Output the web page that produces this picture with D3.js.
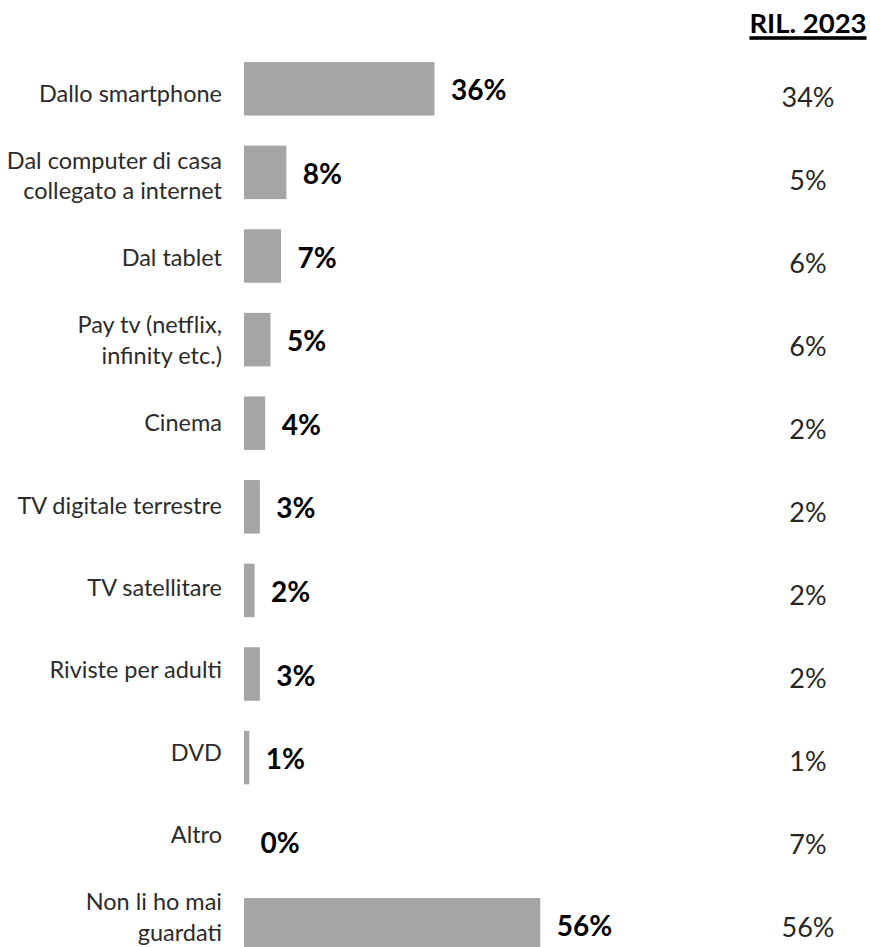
<!DOCTYPE html>
<html>
<head>
<meta charset="utf-8">
<script src="https://cdn.jsdelivr.net/npm/d3@7"></script>
<style>
  html, body { margin: 0; padding: 0; background: #fff; }
  svg { display: block; }
</style>
</head>
<body>
<svg id="chart" width="870" height="947"></svg>
<script>
// ---- data ----
const categories = [
  "Dallo smartphone",
  "Dal computer di casa\ncollegato a internet",
  "Dal tablet",
  "Pay tv (netflix,\ninfinity etc.)",
  "Cinema",
  "TV digitale terrestre",
  "TV satellitare",
  "Riviste per adulti",
  "DVD",
  "Altro",
  "Non li ho mai\nguardati"
];
const values2024 = [36, 8, 7, 5, 4, 3, 2, 3, 1, 0, 56];
const values2023 = [34, 5, 6, 6, 2, 2, 2, 2, 1, 7, 56];
const columnHeader = "RIL. 2023";

// ---- layout ----
const svg = d3.select("#chart");
const FONT = "Lato, 'Open Sans', 'DejaVu Sans', sans-serif";

const x = d3.scaleLinear().domain([0, 100]).range([244, 244 + 529]);
const yBar = d3.scaleBand().domain(categories).range([47, 966.6])
  .paddingInner(0.36).paddingOuter(0.18);
const yLabel = d3.scalePoint().domain(categories).range([93, 917]);
const yRight = d3.scalePoint().domain(categories).range([97, 927]);
const rightX = 808;

const rows = categories.map((c, i) => ({ cat: c, v: values2024[i], prev: values2023[i] }));

// bars
svg.append("g").selectAll("rect").data(rows).join("rect")
  .attr("x", x(0))
  .attr("y", d => yBar(d.cat))
  .attr("width", d => x(d.v) - x(0))
  .attr("height", yBar.bandwidth())
  .attr("fill", "#a5a5a5");

// bold value labels
svg.append("g").selectAll("text").data(rows).join("text")
  .attr("x", d => x(d.v) + 16.5)
  .attr("y", d => yBar(d.cat) + yBar.bandwidth() / 2 + 11.5)
  .attr("font-family", FONT)
  .attr("font-weight", "bold")
  .attr("font-size", 28)
  .attr("fill", "#000")
  .text(d => d.v + "%");

// category labels (right aligned)
const lineGap = 30.5;
const lab = svg.append("g").selectAll("text").data(rows).join("text")
  .attr("text-anchor", "end")
  .attr("font-family", FONT)
  .attr("font-size", 23.5)
  .attr("fill", "#2b2b2b");
lab.each(function(d) {
  const lines = d.cat.split("\n");
  const cy = yLabel(d.cat);
  const t = d3.select(this);
  lines.forEach((ln, k) => {
    const off = (k - (lines.length - 1) / 2) * lineGap;
    t.append("tspan").attr("x", 222).attr("y", cy + off + 8.5).text(ln);
  });
});

// right column header
const hdr = svg.append("text")
  .attr("x", rightX)
  .attr("y", 33.3)
  .attr("text-anchor", "middle")
  .attr("font-family", FONT)
  .attr("font-weight", "bold")
  .attr("font-size", 27.5)
  .attr("fill", "#000")
  .text(columnHeader);
const hw = hdr.node().getComputedTextLength();
svg.append("rect")
  .attr("x", rightX - hw / 2)
  .attr("y", 36.2)
  .attr("width", hw)
  .attr("height", 3.6)
  .attr("fill", "#000");

// right column values
svg.append("g").selectAll("text").data(rows).join("text")
  .attr("x", rightX)
  .attr("y", d => yRight(d.cat) + 9.8)
  .attr("text-anchor", "middle")
  .attr("font-family", FONT)
  .attr("font-size", 27)
  .attr("fill", "#262626")
  .text(d => d.prev + "%");
</script>
</body>
</html>
